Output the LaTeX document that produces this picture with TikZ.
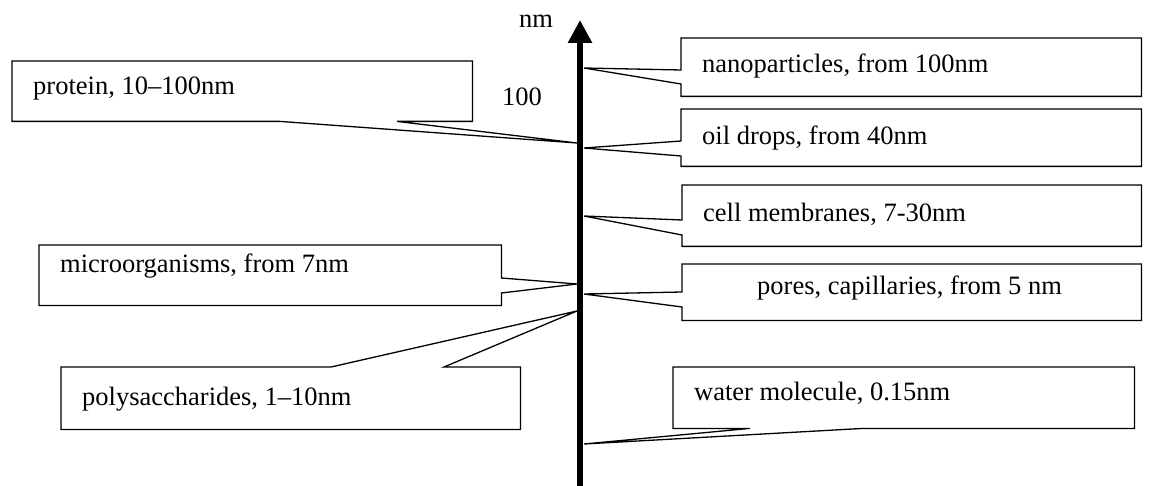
\documentclass[tikz,border=0pt]{standalone}
\usepackage{fontspec}
\setmainfont{Liberation Serif}
\usetikzlibrary{calc,arrows.meta}
\begin{document}
\begin{tikzpicture}[x=1pt,y=-1pt,
  boxn/.style={draw=none,inner sep=0pt,anchor=north west},
  outline/.style={line width=1.3pt,line join=miter},
  lbl/.style={anchor=west,inner sep=0pt,font=\fontsize{26.5}{30}\selectfont},
  plain/.style={inner sep=0pt,font=\fontsize{26.5}{30}\selectfont},
  axisline/.style={line width=6.5pt,-{Triangle[width=23pt,length=23pt]}}]
\useasboundingbox[fill=white] (0,0) rectangle (1150,486);

% axis
\coordinate (axbot) at (580,490);
\coordinate (axtop) at (580,20);
\draw[axisline] (axbot) -- (axtop);
\node[plain] (nm) at (536,21) {nm};
\node[plain] (hundred) at (522,97) {100};

% tips on the axis
\coordinate (tProt)  at (577,143);
\coordinate (tNano)  at (584,68);
\coordinate (tOil)   at (584,148);
\coordinate (tCell)  at (584,216);
\coordinate (tMicro) at (577,284);
\coordinate (tPores) at (584,294);
\coordinate (tPoly)  at (577,311);
\coordinate (tWater) at (584,444);

% protein
\node[boxn,minimum width=460pt,minimum height=60pt] (prot) at (12,61) {};
\draw[outline] (prot.north west) -- (prot.north east) -- (prot.south east)
  -- ($(prot.south west)+(385,0)$) -- (tProt) -- ($(prot.south west)+(268,0)$)
  -- (prot.south west) -- cycle;
\node[lbl] (protT) at (33,89) {protein, 10–100nm};

% nanoparticles
\node[boxn,minimum width=460pt,minimum height=58pt] (nano) at (681,38) {};
\draw[outline] (nano.north west) -- (nano.north east) -- (nano.south east)
  -- (nano.south west) -- ($(nano.north west)+(0,46)$) -- (tNano)
  -- ($(nano.north west)+(0,32)$) -- cycle;
\node[lbl] (nanoT) at (702,66) {nanoparticles, from 100nm};

% oil drops
\node[boxn,minimum width=460pt,minimum height=57pt] (oil) at (681,109) {};
\draw[outline] (oil.north west) -- (oil.north east) -- (oil.south east)
  -- (oil.south west) -- ($(oil.north west)+(0,47)$) -- (tOil)
  -- ($(oil.north west)+(0,32)$) -- cycle;
\node[lbl] (oilT) at (702,138) {oil drops, from 40nm};

% cell membranes
\node[boxn,minimum width=459pt,minimum height=61pt] (cell) at (682,185) {};
\draw[outline] (cell.north west) -- (cell.north east) -- (cell.south east)
  -- (cell.south west) -- ($(cell.north west)+(0,50)$) -- (tCell)
  -- ($(cell.north west)+(0,35)$) -- cycle;
\node[lbl] (cellT) at (703,214) {cell membranes, 7-30nm};

% microorganisms
\node[boxn,minimum width=462pt,minimum height=60pt] (micro) at (39,245) {};
\draw[outline] (micro.north west) -- (micro.north east)
  -- ($(micro.north east)+(0,33)$) -- (tMicro) -- ($(micro.north east)+(0,48)$)
  -- (micro.south east) -- (micro.south west) -- cycle;
\node[lbl] (microT) at (60,266) {microorganisms, from 7nm};

% pores
\node[boxn,minimum width=459pt,minimum height=56pt] (pores) at (682,264) {};
\draw[outline] (pores.north west) -- (pores.north east) -- (pores.south east)
  -- (pores.south west) -- ($(pores.north west)+(0,43)$) -- (tPores)
  -- ($(pores.north west)+(0,28)$) -- cycle;
\node[lbl] (poresT) at (757,288) {pores, capillaries, from 5 nm};

% polysaccharides
\node[boxn,minimum width=459pt,minimum height=62pt] (poly) at (61,367) {};
\draw[outline] (poly.north west) -- ($(poly.north west)+(270,0)$) -- (tPoly)
  -- ($(poly.north west)+(383,0)$) -- (poly.north east) -- (poly.south east)
  -- (poly.south west) -- cycle;
\node[lbl] (polyT) at (82,399) {polysaccharides, 1–10nm};

% water molecule
\node[boxn,minimum width=461pt,minimum height=61pt] (water) at (673,367) {};
\draw[outline] (water.north west) -- (water.north east) -- (water.south east)
  -- ($(water.south west)+(190,0)$) -- (tWater) -- ($(water.south west)+(77,0)$)
  -- (water.south west) -- cycle;
\node[lbl] (waterT) at (694,393) {water molecule, 0.15nm};
\end{tikzpicture}
\end{document}
